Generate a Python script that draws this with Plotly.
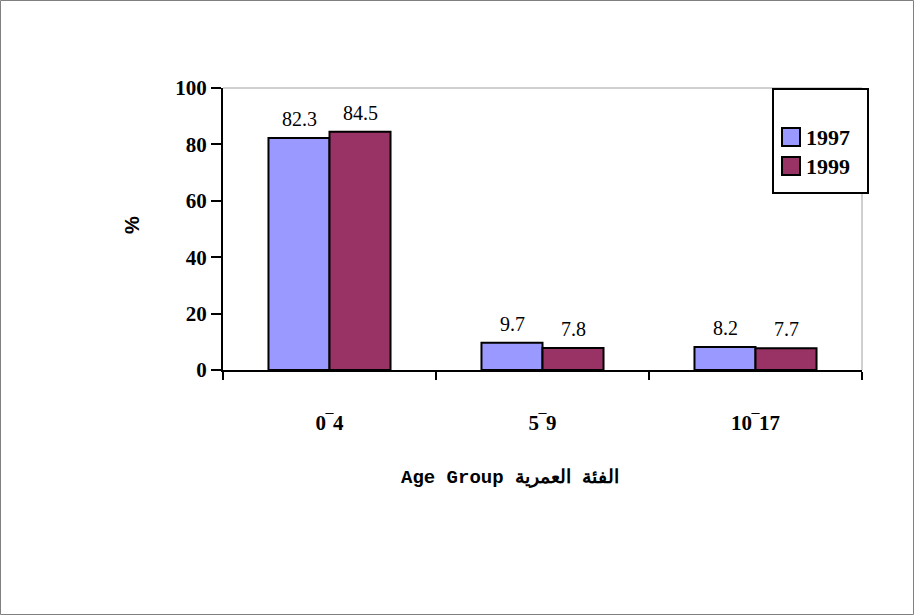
import plotly.graph_objects as go

categories = ["0‾4", "5‾9", "10‾17"]
years = ["1997", "1999"]
values_1997 = [82.3, 9.7, 8.2]
values_1999 = [84.5, 7.8, 7.7]
y_ticks = [0, 20, 40, 60, 80, 100]

colors = ["#9999FF", "#993366"]
series = [values_1997, values_1999]

W, H = 914, 615
L, R, T, B = 223, 862, 88, 370
pw, ph = R - L, B - T


def px(x):
    return (x - L) / pw


def py(y):
    return (B - y) / ph


fig = go.Figure()
bar_offsets = [-30.5, 30.5]
for i, (name, vals) in enumerate(zip(years, series)):
    fig.add_trace(go.Bar(
        x=categories, y=vals, name=name,
        marker=dict(color=colors[i], line=dict(color="black", width=2)),
    ))
    for c, v in zip(categories, vals):
        fig.add_annotation(
            x=c, y=v, text=f"{v:.1f}", showarrow=False,
            xshift=bar_offsets[i], yanchor="bottom", yshift=6,
            font=dict(family="Liberation Serif", size=20, color="black"),
        )

fig.update_layout(
    width=W, height=H,
    paper_bgcolor="white", plot_bgcolor="white",
    margin=dict(l=L, r=W - R, t=T, b=H - B),
    barmode="group", bargap=0.427, bargroupgap=0,
    showlegend=False,
    xaxis=dict(
        showline=True, linecolor="black", linewidth=2,
        ticks="outside", tickson="boundaries", ticklen=8, tickwidth=2, tickcolor="black",
        tickfont=dict(family="Liberation Serif", size=21, color="black", weight="bold"),
        ticklabelstandoff=33,
        showgrid=False,
    ),
    yaxis=dict(
        range=[0, 100], tickvals=y_ticks,
        showline=True, linecolor="black", linewidth=2,
        ticks="outside", ticklen=10, tickwidth=2, tickcolor="black",
        tickfont=dict(family="Liberation Serif", size=21, color="black", weight="bold"),
        ticklabelstandoff=0,
        showgrid=False, zeroline=False,
    ),
    font=dict(family="Liberation Serif"),
)

# plot-area top and right gray border
fig.add_shape(type="line", xref="paper", yref="paper", x0=0, x1=1, y0=1, y1=1,
              line=dict(color="#A0A0A0", width=1), layer="below")
fig.add_shape(type="line", xref="paper", yref="paper", x0=1, x1=1, y0=0, y1=1,
              line=dict(color="#A0A0A0", width=1), layer="below")
# outer chart border
fig.add_shape(type="rect", xref="paper", yref="paper",
              x0=px(0.5), x1=px(913.5), y0=py(614.5), y1=py(0.5),
              line=dict(color="#808080", width=1))

# legend (box, swatches, labels)
fig.add_shape(type="rect", xref="paper", yref="paper",
              x0=px(773), x1=px(868), y0=py(193), y1=py(89),
              line=dict(color="black", width=2), fillcolor="white")
legend_y = [137, 166]
for i, name in enumerate(years):
    cy = legend_y[i]
    fig.add_shape(type="rect", xref="paper", yref="paper",
                  x0=px(782), x1=px(800), y0=py(cy + 9), y1=py(cy - 9),
                  line=dict(color="black", width=2), fillcolor=colors[i])
    fig.add_annotation(text=name, xref="paper", yref="paper",
                       x=px(804), y=py(cy), xanchor="left", yanchor="middle",
                       showarrow=False,
                       font=dict(family="Liberation Serif", size=22, color="black", weight="bold"))

fig.add_annotation(
    text="%", xref="paper", yref="paper", x=px(119), y=py(225),
    showarrow=False, textangle=-90,
    font=dict(family="Liberation Sans", size=20, color="black", weight="bold"),
)
fig.add_annotation(
    text="Age Group الفئة العمرية", xref="paper", yref="paper",
    x=px(510), y=py(478), showarrow=False, yanchor="middle",
    font=dict(family="Liberation Mono", size=19, color="black", weight="bold"),
)

fig.write_html("out.html", config={"displayModeBar": False},
               post_script="document.body.style.margin='0';")
